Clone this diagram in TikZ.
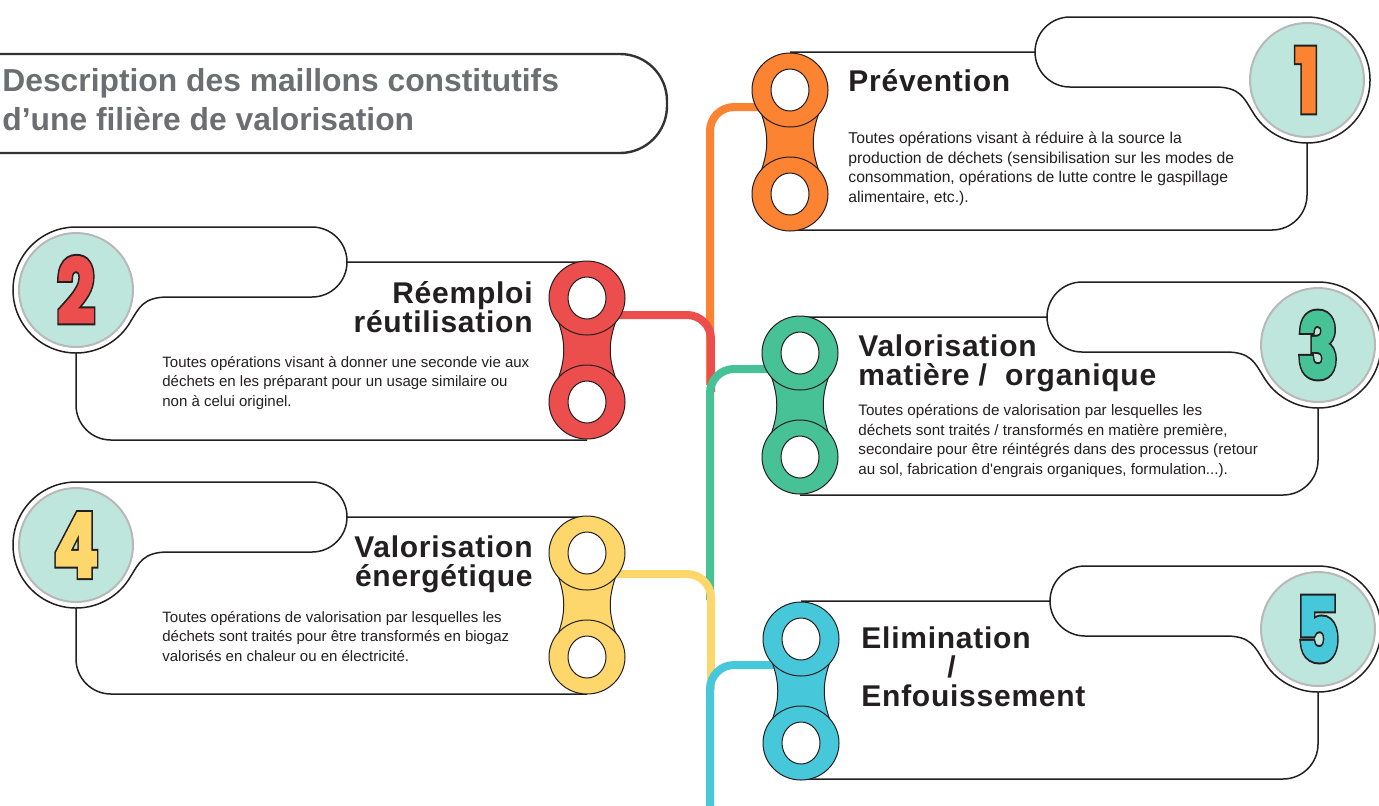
\documentclass[tikz,border=0pt]{standalone}
\usepackage{fontspec}
\setmainfont{Liberation Sans}
\newfontfamily\digitfill[FakeBold=3]{Poppins}
\newfontfamily\digitedge[FakeBold=7.5]{Poppins}
\usetikzlibrary{shapes.geometric,backgrounds}

\definecolor{ink}{HTML}{231F20}
\definecolor{titlegray}{HTML}{6D6E71}
\definecolor{mint}{HTML}{BEE6DC}
\definecolor{prevorange}{HTML}{FB8332}
\definecolor{reusered}{HTML}{EC4D4D}
\definecolor{mattergreen}{HTML}{47C196}
\definecolor{energyyellow}{HTML}{FDD76C}
\definecolor{landfillblue}{HTML}{46C8DA}

% chain link: name, x, y of upper hole, colour
\newcommand{\chainlink}[4]{%
  \fill[#4] (#2-30,#3+20) .. controls (#2-21,#3+44) and (#2-21,#3+60) .. (#2-30,#3+84)
    -- (#2+30,#3+84) .. controls (#2+21,#3+60) and (#2+21,#3+44) .. (#2+30,#3+20) -- cycle;
  \draw[linkline] (#2-30,#3+20) .. controls (#2-21,#3+44) and (#2-21,#3+60) .. (#2-30,#3+84);
  \draw[linkline] (#2+30,#3+20) .. controls (#2+21,#3+44) and (#2+21,#3+60) .. (#2+30,#3+84);
  \node[link,fill=#4] (#1a) at (#2,#3) {};
  \node[link,fill=#4] (#1b) at (#2,#3+104) {};
  \node[hole] (#1ah) at (#1a) {};
  \node[hole] (#1bh) at (#1b) {};
}

% card outline opening to the right: chain x, box top, tab left, box bottom, disc x
\newcommand{\rightcard}[5]{%
  \draw[card] (#1,#2) -- (#3,#2) arc[start angle=180,end angle=270,radius=35]
    -- (#5,#2-35) arc[start angle=270,end angle=450,radius=63]
    -- (#5,#4-35) arc[start angle=0,end angle=90,radius=35] -- (#1,#4);
  \draw[card] (#3,#2) arc[start angle=180,end angle=90,radius=35]
    -- (#5-92,#2+35) .. controls (#5-67,#2+35) and (#5-63,#2+46) .. (#5-54.6,#2+59.5)
    arc[start angle=150,end angle=90,radius=63];
}

% card outline opening to the left: chain x, box top, tab right, box bottom, disc x
\newcommand{\leftcard}[5]{%
  \draw[card] (#1,#2) -- (#3,#2) arc[start angle=0,end angle=-90,radius=35]
    -- (#5,#2-35) arc[start angle=270,end angle=90,radius=63]
    -- (#5,#4-35) arc[start angle=180,end angle=90,radius=35] -- (#1,#4);
  \draw[card] (#3,#2) arc[start angle=0,end angle=90,radius=35]
    -- (#5+92,#2+35) .. controls (#5+67,#2+35) and (#5+63,#2+46) .. (#5+54.6,#2+59.5)
    arc[start angle=30,end angle=90,radius=63];
}

% number in its disc: name, x, y, digit, colour
\newcommand{\numdisc}[5]{%
  \node[disc] (#1) at (#2,#3) {};
  \node[digit,font=\digitedge\bfseries\fontsize{44}{44}\selectfont,text=ink] (#1e) at (#1) {\scalebox{.75}[1]{#4}};
  \node[digit,font=\digitfill\bfseries\fontsize{44}{44}\selectfont,text=#5] (#1n) at (#1) {\scalebox{.75}[1]{#4}};
}

\begin{document}
\begin{tikzpicture}[x=0.5pt,y=-0.5pt,
  card/.style={draw=ink,line width=0.75pt},
  linkline/.style={draw=ink,line width=0.5pt},
  link/.style={ellipse,draw=ink,line width=0.5pt,minimum width=38pt,minimum height=37pt,inner sep=0pt},
  hole/.style={ellipse,fill=white,draw=ink,line width=0.5pt,minimum width=19pt,minimum height=21pt,inner sep=0pt},
  disc/.style={circle,fill=mint,draw=black!28,line width=1pt,minimum size=57pt,inner sep=0pt},
  digit/.style={inner sep=0pt},
  trunk/.style={line width=4pt,rounded corners=12pt},
  titletext/.style={text=titlegray,font=\bfseries\fontsize{15.9}{19.5}\selectfont,align=left,inner sep=0pt},
  headtext/.style={text=ink,font=\bfseries\fontsize{15}{14.5}\selectfont\addfontfeatures{LetterSpace=2.5},inner sep=0pt},
  bodytext/.style={text=ink,font=\fontsize{7.5}{9.75}\selectfont,align=left,inner sep=0pt}]
\useasboundingbox (0,0) rectangle (1379,805);

  % Title
  \draw[draw=black!80,line width=1.2pt] (-20,54) -- (620,54) arc[start angle=-90,end angle=0,radius=47]
    -- (667,106) arc[start angle=0,end angle=90,radius=47] -- (-20,153);
  \node[titletext,anchor=base west] (title) at (2,130)
    {Description des maillons constitutifs\\d’une filière de valorisation};

  % Cards
  \rightcard{790}{52}{1035}{230}{1307}
  \leftcard{587}{262}{347}{440}{76}
  \rightcard{800}{317}{1047}{495}{1318}
  \leftcard{587}{517}{347}{694}{76}
  \rightcard{801}{601}{1050}{779}{1318}

  % Numbers
  \numdisc{d1}{1307}{80}{1}{prevorange}
  \numdisc{d2}{76}{290}{2}{reusered}
  \numdisc{d3}{1318}{345}{3}{mattergreen}
  \numdisc{d4}{76}{545}{4}{energyyellow}
  \numdisc{d5}{1318}{629}{5}{landfillblue}

  % Chains
  \chainlink{c1}{790}{90}{prevorange}
  \chainlink{c2}{587}{298}{reusered}
  \chainlink{c3}{800}{353}{mattergreen}
  \chainlink{c4}{587}{553}{energyyellow}
  \chainlink{c5}{801}{639}{landfillblue}

  % Trunk
  \coordinate (end1) at (710,385);
  \coordinate (end2) at (711,392);
  \coordinate (end3) at (710,600);
  \coordinate (end4) at (711,690);
  \coordinate (end5) at (710,815);
  \begin{scope}[on background layer]
    \draw[trunk,prevorange] ([yshift=-8.5pt]c1a.center) -| (end1);
    \draw[trunk,reusered] ([yshift=-8.5pt]c2a.center) -| (end2);
    \draw[trunk,mattergreen] ([yshift=-8pt]c3a.center) -| (end3);
    \draw[trunk,energyyellow] ([yshift=-10.5pt]c4a.center) -| (end4);
    \draw[trunk,landfillblue] ([yshift=-13pt]c5a.center) -| (end5);
  \end{scope}

  % Headings
  \node[headtext,anchor=base west] (h1) at (848,91) {Prévention};
  \node[headtext,anchor=base east,align=right] (h2) at (533,332) {Réemploi\\réutilisation};
  \node[headtext,anchor=base west,align=left] (h3) at (858,385) {Valorisation\\matière /\ \ organique};
  \node[headtext,anchor=base east,align=right] (h4) at (533,586) {Valorisation\\énergétique};
  \node[headtext,anchor=base west,align=left] (h5) at (861,706) {Elimination\\\hspace*{43pt}/\\Enfouissement};

  % Texts
  \node[bodytext,font=\fontsize{7.85}{9.75}\selectfont,anchor=base west] (b1) at (848,202)
    {Toutes opérations visant à réduire à la source la\\
     production de déchets (sensibilisation sur les modes de\\
     consommation, opérations de lutte contre le gaspillage\\
     alimentaire, etc.).};
  \node[bodytext,anchor=base west] (b2) at (162,406)
    {Toutes opérations visant à donner une seconde vie aux\\
     déchets en les préparant pour un usage similaire ou\\
     non à celui originel.};
  \node[bodytext,font=\fontsize{7.6}{9.75}\selectfont,anchor=base west] (b3) at (858,474)
    {Toutes opérations de valorisation par lesquelles les\\
     déchets sont traités / transformés en matière première,\\
     secondaire pour être réintégrés dans des processus (retour\\
     au sol, fabrication d\textquotesingle engrais organiques, formulation...).};
  \node[bodytext,anchor=base west] (b4) at (162,661)
    {Toutes opérations de valorisation par lesquelles les\\
     déchets sont traités pour être transformés en biogaz\\
     valorisés en chaleur ou en électricité.};
\end{tikzpicture}
\end{document}
